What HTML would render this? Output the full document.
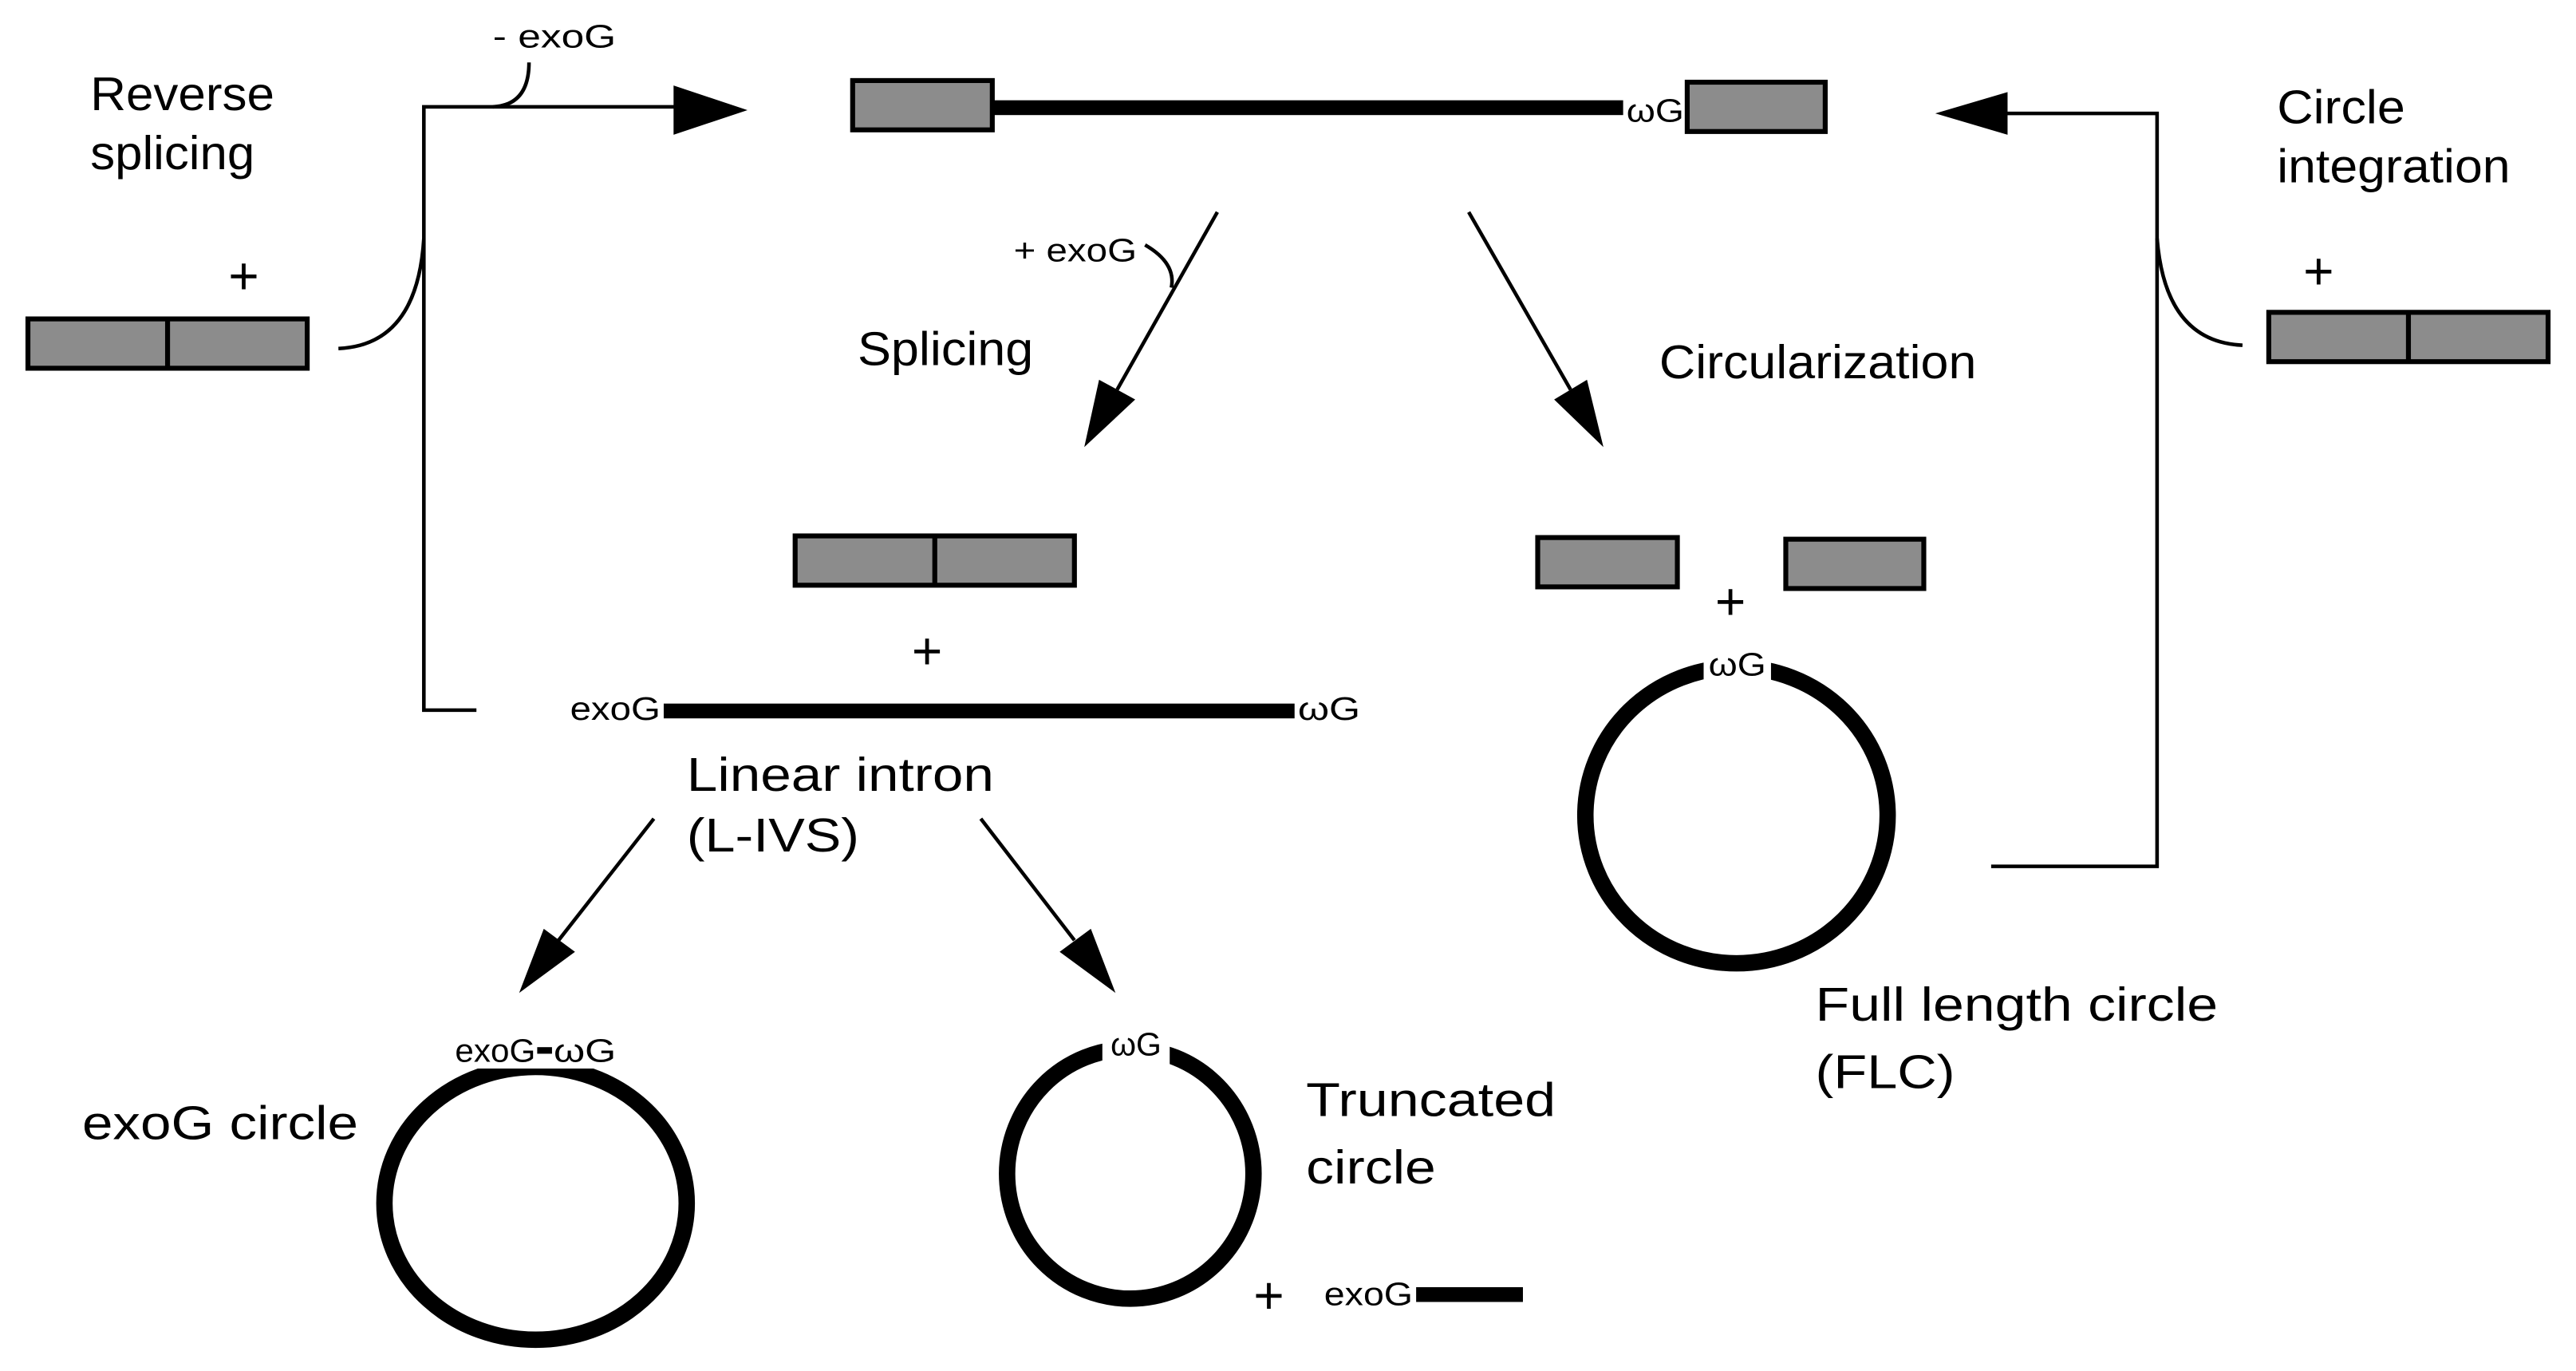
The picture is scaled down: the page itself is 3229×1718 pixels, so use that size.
<!DOCTYPE html>
<html><head><meta charset="utf-8"><style>
html,body{margin:0;padding:0;background:#fff}
svg{display:block}
text{font-family:"Liberation Sans",Arial,sans-serif;fill:#000}
</style></head><body>
<svg width="3229" height="1718" viewBox="0 0 1568 834" preserveAspectRatio="none" xmlns="http://www.w3.org/2000/svg">
<rect width="1568" height="834" fill="#fff"/>
<g fill="none" stroke="#000" stroke-width="2.2">
<path d="M412 65 H258 V432 H290"/>
<path d="M322 38 Q322 64 300 65"/>
<path d="M206 212 Q254 210 258 145"/>
<path d="M1220 69 H1313 V527 H1212"/>
<path d="M1365 210 Q1318 208 1313 145"/>
<path d="M741 129 L680 237"/>
<path d="M697 149 Q716 160 713 175"/>
<path d="M894 129 L956 237"/>
<path d="M398 498 L340 572"/>
<path d="M597 498 L654 572"/>
</g>
<g fill="#000">
<polygon points="410,52 455,67 410,82"/>
<polygon points="1178,69 1222,56 1222,82"/>
<polygon points="660,272 669,231 691,243"/>
<polygon points="976,272 946,243 966,231"/>
<polygon points="316,604 331,565 350,579"/>
<polygon points="679,604 645,579 664,565"/>
</g>
<g fill="#8c8c8c" stroke="#000" stroke-width="3">
<rect x="17" y="194" width="170" height="30"/>
<rect x="519" y="49" width="85" height="30"/>
<rect x="1027" y="50" width="84" height="30"/>
<rect x="1381" y="190" width="170" height="30"/>
<rect x="484" y="326" width="170" height="30"/>
<rect x="936" y="327" width="85" height="30"/>
<rect x="1087" y="328" width="84" height="30"/>
</g>
<g stroke="#000" stroke-width="3">
<line x1="102" y1="194" x2="102" y2="224"/>
<line x1="1466" y1="190" x2="1466" y2="220"/>
<line x1="569" y1="326" x2="569" y2="356"/>
</g>
<rect x="604" y="61" width="384" height="9" fill="#000"/>
<rect x="404" y="428" width="384" height="9" fill="#000"/>
<rect x="862" y="783" width="65" height="9" fill="#000"/>
<g fill="none" stroke="#000" stroke-width="10">
<ellipse cx="326" cy="732" rx="92" ry="83"/>
<ellipse cx="688" cy="714" rx="75" ry="76"/>
<ellipse cx="1057" cy="496" rx="92" ry="90"/>
</g>
<rect x="269" y="620" width="114" height="30" fill="#fff"/>
<rect x="671" y="620" width="41" height="30" fill="#fff"/>
<rect x="1037" y="390" width="41" height="24" fill="#fff"/>
<g font-size="29">
<text x="55" y="67" textLength="112" lengthAdjust="spacingAndGlyphs">Reverse</text>
<text x="55" y="103" textLength="100" lengthAdjust="spacingAndGlyphs">splicing</text>
<text x="1386" y="75" textLength="78" lengthAdjust="spacingAndGlyphs">Circle</text>
<text x="1386" y="111" textLength="142" lengthAdjust="spacingAndGlyphs">integration</text>
<text x="522" y="222" textLength="107" lengthAdjust="spacingAndGlyphs">Splicing</text>
<text x="1010" y="230" textLength="193" lengthAdjust="spacingAndGlyphs">Circularization</text>
<text x="418" y="481" textLength="187" lengthAdjust="spacingAndGlyphs">Linear intron</text>
<text x="418" y="518" textLength="105" lengthAdjust="spacingAndGlyphs">(L-IVS)</text>
<text x="50" y="693" textLength="168" lengthAdjust="spacingAndGlyphs">exoG circle</text>
<text x="795" y="679" textLength="152" lengthAdjust="spacingAndGlyphs">Truncated</text>
<text x="795" y="720" textLength="79" lengthAdjust="spacingAndGlyphs">circle</text>
<text x="1105" y="621" textLength="245" lengthAdjust="spacingAndGlyphs">Full length circle</text>
<text x="1105" y="662" textLength="85" lengthAdjust="spacingAndGlyphs">(FLC)</text>
</g>
<g font-size="32">
<text x="139" y="179">+</text>
<text x="1402" y="176">+</text>
<text x="555" y="407">+</text>
<text x="1044" y="377">+</text>
<text x="763" y="799">+</text>
</g>
<g font-size="20">
<text x="300" y="29" textLength="75" lengthAdjust="spacingAndGlyphs">- exoG</text>
<text x="617" y="159" textLength="75" lengthAdjust="spacingAndGlyphs">+ exoG</text>
<text x="990" y="74" textLength="35" lengthAdjust="spacingAndGlyphs">ωG</text>
<text x="347" y="438" textLength="55" lengthAdjust="spacingAndGlyphs">exoG</text>
<text x="790" y="438" textLength="38" lengthAdjust="spacingAndGlyphs">ωG</text>
<text x="277" y="646" textLength="49" lengthAdjust="spacingAndGlyphs">exoG</text>
<rect x="327" y="637" width="9" height="4" fill="#000"/>
<text x="337" y="646" textLength="38" lengthAdjust="spacingAndGlyphs">ωG</text>
<text x="676" y="642" textLength="31" lengthAdjust="spacingAndGlyphs">ωG</text>
<text x="1040" y="411" textLength="35" lengthAdjust="spacingAndGlyphs">ωG</text>
<text x="806" y="794" textLength="54" lengthAdjust="spacingAndGlyphs">exoG</text>
</g>
</svg>
</body></html>
